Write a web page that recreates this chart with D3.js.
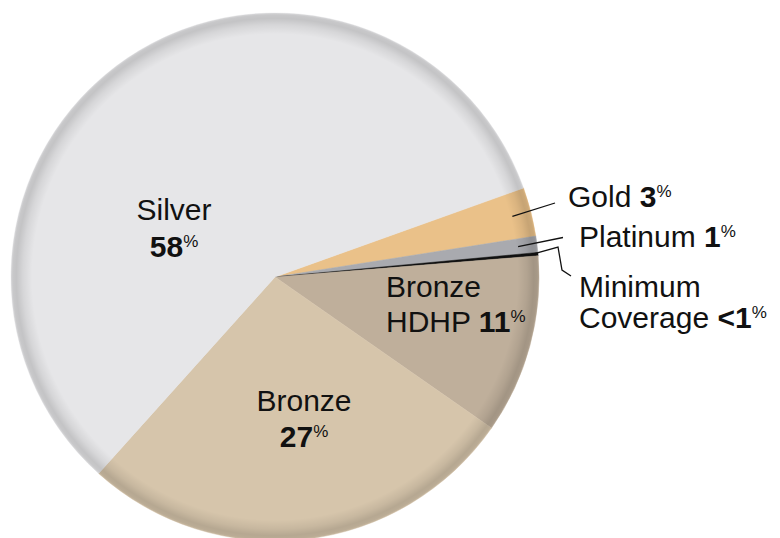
<!DOCTYPE html>
<html>
<head>
<meta charset="utf-8">
<script src="https://cdn.jsdelivr.net/npm/d3@7"></script>
<style>
  html, body { margin: 0; padding: 0; background: #fff; }
  svg { display: block; }
  text { font-family: "Liberation Sans", Arial, Helvetica, sans-serif; fill: #111; }
</style>
</head>
<body>
<svg id="chart" width="780" height="538"></svg>
<script>
// Plan enrollment shares by metal level (%)
const categories = ["Gold", "Platinum", "Minimum Coverage", "Bronze HDHP", "Bronze", "Silver"];
const shares = [3, 1, 0.2, 11, 27, 58];
const shareLabels = ["3", "1", "<1", "11", "27", "58"];
const sliceColors = ["#eac189", "#a9aaaf", "#111111", "#bfaf9b", "#d6c5ab", "#e6e6e8"];

const W = 780, H = 538;
const cx = 275, cy = 277, R = 264;
const startDeg = 70.3;

const svg = d3.select("#chart");
const defs = svg.append("defs");

// darker bevel toward the rim of the disc (centred on the group origin)
const rim = defs.append("radialGradient")
  .attr("id", "rim")
  .attr("gradientUnits", "userSpaceOnUse")
  .attr("cx", 0).attr("cy", 0).attr("r", R);
[[0, 0], [0.92, 0], [0.955, 0.07], [0.98, 0.15], [0.993, 0.13], [1, 0.06]].forEach(([o, a]) => {
  rim.append("stop").attr("offset", o).attr("stop-color", "#000").attr("stop-opacity", a);
});

const data = categories.map((c, i) => ({ name: c, value: shares[i], label: shareLabels[i], color: sliceColors[i] }));

const pie = d3.pie()
  .sort(null)
  .value(d => d.value)
  .startAngle(startDeg * Math.PI / 180)
  .endAngle(startDeg * Math.PI / 180 + 2 * Math.PI);

const arcs = pie(data);
const arc = d3.arc().innerRadius(0).outerRadius(R);

const g = svg.append("g").attr("transform", `translate(${cx},${cy})`);

g.selectAll("path.slice")
  .data(arcs)
  .join("path")
  .attr("class", "slice")
  .attr("d", arc)
  .attr("fill", d => d.data.color)
  .attr("stroke", d => d.data.color)
  .attr("stroke-width", 0.5);

g.append("circle").attr("r", R).attr("fill", "url(#rim)");

// point on a slice's bisector at a given radius (absolute coordinates)
function pointAt(i, r) {
  const a = (arcs[i].startAngle + arcs[i].endAngle) / 2;
  return [cx + r * Math.sin(a), cy - r * Math.cos(a)];
}

// leader lines for the thin slices
const line = d3.line();
const leaders = [
  [pointAt(0, 245), [555, 203]],
  [pointAt(1, 245), [563, 237.5]],
  [pointAt(2, 256), [558, 247], [562, 270], [571, 276]]
];
svg.selectAll("path.leader")
  .data(leaders)
  .join("path")
  .attr("class", "leader")
  .attr("d", line)
  .attr("fill", "none")
  .attr("stroke", "#111")
  .attr("stroke-width", 1.3);

const FS = 30, PS = 17, PUP = 10;

// writes a label: lines of runs, the value run followed by a raised %
function label(x, y, anchor, lines, lh) {
  const t = svg.append("text")
    .attr("x", x).attr("y", y)
    .attr("text-anchor", anchor)
    .attr("font-size", FS);
  lines.forEach((runs, li) => {
    runs.forEach((run, ri) => {
      const s = t.append("tspan").text(run.t);
      if (ri === 0) s.attr("x", x).attr("y", y + li * lh);
      if (run.b) s.attr("font-weight", "bold");
      if (run.pct) s.attr("font-size", PS).attr("dy", -PUP);
    });
  });
}
const pctRuns = i => [{ t: shareLabels[i], b: true }, { t: "%", pct: true }];

label(174, 220, "middle", [[{ t: categories[5] }], pctRuns(5)], 37);
label(304, 411, "middle", [[{ t: categories[4] }], pctRuns(4)], 36);
label(386, 297, "start", [[{ t: "Bronze" }], [{ t: "HDHP " }, ...pctRuns(3)]], 35);
label(568, 207, "start", [[{ t: categories[0] + " " }, ...pctRuns(0)]], 0);
label(579, 247, "start", [[{ t: categories[1] + " " }, ...pctRuns(1)]], 0);
label(579, 297, "start", [[{ t: "Minimum" }], [{ t: "Coverage " }, ...pctRuns(2)]], 31);
</script>
</body>
</html>
